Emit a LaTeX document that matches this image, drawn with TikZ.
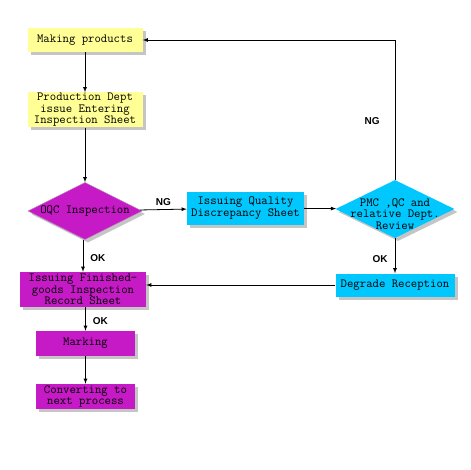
\documentclass[tikz,border=0pt]{standalone}
\usepackage{fontspec}
\newfontfamily\tagfont{Liberation Sans}
\usetikzlibrary{shapes.geometric,shadows}
\definecolor{boxyellow}{RGB}{255,255,150}
\definecolor{boxpurple}{RGB}{198,26,198}
\definecolor{boxcyan}{RGB}{0,200,255}
\begin{document}
\begin{tikzpicture}[x=1pt,y=-1pt,
	txt/.style={font=\ttfamily\fontsize{12.4}{11.5}\selectfont,align=center,inner sep=0pt},
	flowbox/.style={txt,drop shadow={shadow xshift=3pt,shadow yshift=-3pt,fill=black!45}},
	decision/.style={diamond,inner sep=0pt,drop shadow={shadow xshift=3pt,shadow yshift=-3pt,fill=black!45}},
	tag/.style={font=\tagfont\bfseries\fontsize{10}{11}\selectfont,inner sep=1pt},
	flow/.style={-latex,thick}]
	\useasboundingbox (0,0) rectangle (470,470);

	% Draw left column
	\node[flowbox,fill=boxyellow,minimum width=115pt,minimum height=24pt] (make) at (85,40) {Making products};
	\node[flowbox,fill=boxyellow,minimum width=115pt,minimum height=35pt] (prod) at (85,110) {Production Dept\\issue Entering\\Inspection Sheet};
	\node[decision,fill=boxpurple,draw=violet!55,minimum width=114pt,minimum height=57pt,label={[txt]center:OQC Inspection}] (oqc) at (85,211) {};
	\node[flowbox,fill=boxpurple,minimum width=126pt,minimum height=35pt] (finish) at (83,289.5) {Issuing Finished-\\goods Inspection\\Record Sheet};
	\node[flowbox,fill=boxpurple,minimum width=99pt,minimum height=25pt] (mark) at (85.5,343.5) {Marking};
	\node[flowbox,fill=boxpurple,minimum width=99pt,minimum height=25pt] (conv) at (85.5,396.5) {Converting to\\next process};

	% Draw right part
	\node[flowbox,fill=boxcyan,minimum width=117pt,minimum height=33pt] (quality) at (245.5,208) {Issuing Quality\\Discrepancy Sheet};
	\node[decision,fill=boxcyan,minimum width=119pt,minimum height=58pt,label={[txt,yshift=-5pt]center:PMC ,QC and\\relative Dept.\\Review}] (review) at (395,209) {};
	\node[flowbox,fill=boxcyan,minimum width=119pt,minimum height=23pt] (degrade) at (395,285) {Degrade Reception};

	% Draw connectors
	\draw[flow] (make) -- (prod);
	\draw[flow] (prod) -- (oqc);
	\draw[flow] (oqc) -- node[tag,above,yshift=3pt] {NG} (quality);
	\draw[flow] (quality) -- (review);
	\draw[flow] (review) -- node[tag,left,xshift=-6pt,yshift=-3pt] {OK} (degrade);
	\draw[flow] (degrade.west) -- (degrade.west -| finish.east);
	\draw[flow] (oqc.south -| finish.north) -- node[tag,right,xshift=6pt,yshift=-2pt] {OK} (finish.north);
	\draw[flow] (finish.south -| mark.north) -- node[tag,right,xshift=6pt,yshift=-2pt] {OK} (mark);
	\draw[flow] (mark) -- (conv);
	\draw[flow] (review.north) |- node[tag,pos=0.21,left,xshift=-14pt] {NG} (make.east);
\end{tikzpicture}
\end{document}
